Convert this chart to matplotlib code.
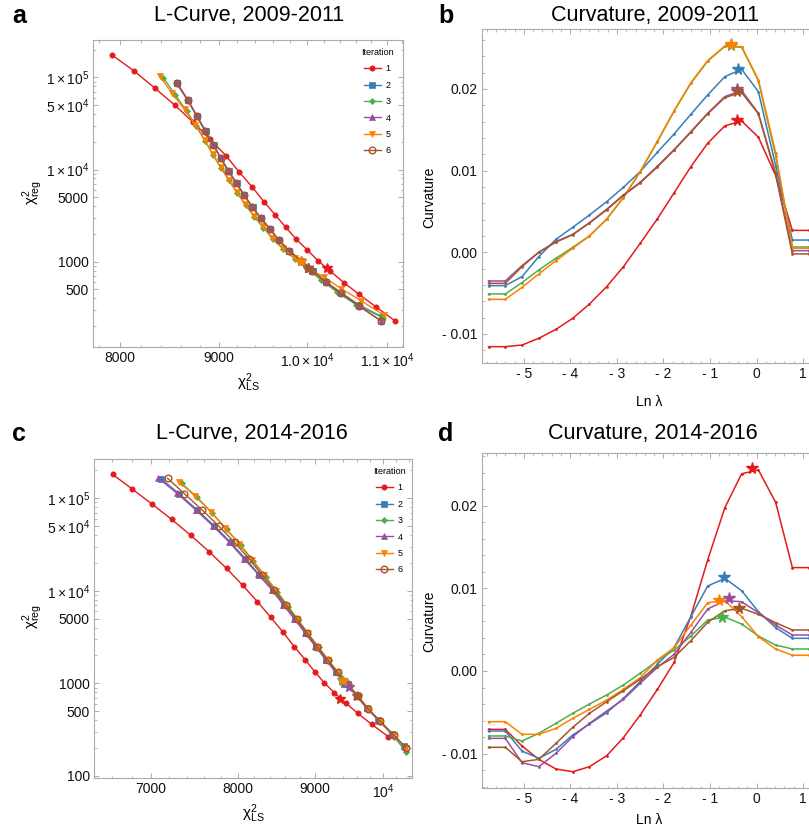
import matplotlib
matplotlib.use('Agg')
import matplotlib.pyplot as plt
from matplotlib.ticker import FixedLocator, FixedFormatter, NullFormatter
import numpy as np

plt.rcParams['font.family'] = ['Liberation Sans', 'DejaVu Sans']
plt.rcParams['mathtext.fontset'] = 'custom'
plt.rcParams['mathtext.rm'] = 'Liberation Sans'
plt.rcParams['mathtext.it'] = 'Liberation Sans:italic'
plt.rcParams['mathtext.bf'] = 'Liberation Sans:bold'

# ---------------- data ----------------
iterations = ['1', '2', '3', '4', '5', '6']
colors = ['#e41a1c', '#377eb8', '#4daf4a', '#984ea3', '#ff7f00', '#a65628']

# Panel a: L-curve 2009-2011 (chi2_LS, chi2_reg)
a_x1 = [7922, 8135, 8341, 8541, 8730, 8907, 9077, 9224, 9369, 9499, 9625, 9750, 9870, 10000, 10136, 10278, 10452, 10640, 10860, 11106]
a_y1 = [174600, 117000, 76000, 49700, 32500, 21250, 14130, 9340, 6415, 4475, 3236, 2360, 1762, 1349, 1018, 793, 591, 443, 323, 229]
a_x2 = [8565, 8676, 8770, 8860, 8945, 9025, 9108, 9193, 9280, 9372, 9466, 9569, 9670, 9790, 9930, 10066, 10228, 10415, 10635, 10932]
a_y2 = [86000, 56600, 37900, 26100, 18400, 13200, 9600, 7120, 5240, 3890, 2950, 2260, 1715, 1315, 1025, 800, 607, 462, 342, 253]
a_x3 = [8424, 8545, 8661, 8760, 8855, 8939, 9025, 9112, 9199, 9293, 9387, 9489, 9597, 9718, 9858, 10000, 10168, 10364, 10602, 10943]
a_y3 = [99000, 64270, 43100, 29630, 20380, 14360, 10380, 7600, 5561, 4121, 3092, 2349, 1785, 1373, 1070, 840, 633, 469, 343, 248]
a_x4 = [8559, 8671, 8766, 8855, 8941, 9021, 9103, 9189, 9276, 9369, 9463, 9566, 9667, 9788, 9929, 10064, 10226, 10413, 10640, 10920]
a_y4 = [86100, 56750, 38020, 26160, 18440, 13230, 9632, 7140, 5251, 3900, 2956, 2263, 1719, 1316, 1025, 798, 602, 454, 331, 229]
a_x5 = [8385, 8511, 8640, 8749, 8849, 8934, 9020, 9107, 9194, 9287, 9382, 9483, 9591, 9712, 9852, 10000, 10205, 10414, 10665, 10966]
a_y5 = [103300, 67550, 44760, 30770, 20890, 14730, 10640, 7790, 5700, 4225, 3170, 2409, 1830, 1408, 1097, 855, 682, 512, 378, 262]
a_x6 = [8559, 8671, 8766, 8855, 8941, 9021, 9103, 9189, 9276, 9369, 9463, 9566, 9667, 9788, 9929, 10064, 10226, 10413, 10640, 10920]
a_y6 = [86100, 56750, 38020, 26160, 18440, 13230, 9632, 7140, 5251, 3900, 2956, 2263, 1719, 1316, 1025, 798, 602, 454, 331, 229]
a_star_x = [10238, 10016, 9929, 10016, 9929, 10016]
a_star_y = [848, 855, 1025, 855, 1025, 855]

# Panel c: L-curve 2014-2016
c_x1 = [6604, 6808, 7015, 7229, 7443, 7658, 7866, 8061, 8246, 8416, 8579, 8725, 8870, 9003, 9134, 9277, 9441, 9615, 9828, 10077]
c_y1 = [181000, 125000, 86490, 59100, 39800, 26400, 17390, 11470, 7612, 5164, 3538, 2485, 1807, 1335, 1015, 792, 613, 474, 359, 265]
c_x2 = [7110, 7315, 7520, 7720, 7915, 8095, 8270, 8440, 8592, 8735, 8878, 9020, 9162, 9302, 9448, 9600, 9752, 9925, 10140, 10330]
c_y2 = [163000, 111000, 74500, 50000, 33200, 22200, 14900, 10250, 7000, 4930, 3480, 2490, 1790, 1310, 975, 740, 545, 400, 285, 208]
c_x3 = [7341, 7519, 7694, 7866, 8036, 8194, 8350, 8501, 8645, 8779, 8915, 9055, 9195, 9335, 9478, 9625, 9775, 9955, 10165, 10355]
c_y3 = [144700, 102200, 68610, 46080, 31190, 20950, 14180, 9760, 6723, 4828, 3420, 2460, 1770, 1300, 965, 722, 525, 385, 265, 182]
c_x4 = [7082, 7292, 7500, 7699, 7897, 8077, 8256, 8428, 8580, 8725, 8870, 9013, 9155, 9296, 9443, 9595, 9750, 9934, 10153, 10346]
c_y4 = [165000, 112500, 75000, 50500, 33500, 22200, 15000, 10300, 7013, 4990, 3500, 2500, 1800, 1320, 980, 735, 535, 392, 276, 205]
c_x5 = [7311, 7492, 7679, 7845, 8020, 8173, 8329, 8480, 8624, 8765, 8905, 9045, 9186, 9328, 9472, 9620, 9770, 9950, 10162, 10352]
c_y5 = [150600, 105500, 71400, 47970, 31970, 21480, 14790, 10010, 6892, 4913, 3468, 2485, 1785, 1308, 971, 729, 532, 392, 276, 202]
c_x6 = [7185, 7373, 7577, 7770, 7963, 8140, 8303, 8458, 8615, 8757, 8900, 9041, 9183, 9325, 9470, 9617, 9768, 9949, 10161, 10351]
c_y6 = [163900, 111700, 74500, 50040, 33190, 22180, 14900, 10230, 7013, 4925, 3468, 2485, 1785, 1308, 971, 729, 532, 392, 276, 202]
c_star_x = [9358, 9418, 9386, 9488, 9405, 9612]
c_star_y = [677, 1000, 1086, 912, 1059, 729]

# Curvature vs Ln lambda
ln_lambda = [-5.76, -5.40, -5.04, -4.68, -4.31, -3.95, -3.59, -3.22, -2.86, -2.50,
             -2.13, -1.77, -1.41, -1.05, -0.68, -0.32, 0.04, 0.41, 0.77, 1.13]

b_k1 = [-0.01155, -0.01155, -0.01135, -0.01053, -0.00943, -0.00808, -0.00633, -0.0042, -0.00176, 0.0011,
        0.0041, 0.0073, 0.01049, 0.01335, 0.01548, 0.01607, 0.01408, 0.0094, 0.00268, 0.00268]
b_k2 = [-0.00408, -0.00408, -0.00298, -0.00053, 0.00159, 0.00306, 0.00457, 0.0062, 0.00796, 0.00988,
        0.01225, 0.01449, 0.0169, 0.01926, 0.0215, 0.0224, 0.01966, 0.0106, 0.0015, 0.0015]
b_k3 = [-0.0051, -0.0051, -0.00371, -0.00216, -0.00073, 0.00061, 0.002, 0.00405, 0.0067, 0.00985,
        0.01355, 0.0173, 0.0207, 0.0234, 0.0252, 0.0251, 0.021, 0.0118, 0.00065, 0.00065]
b_k4 = [-0.00351, -0.00351, -0.00163, 0.0, 0.00131, 0.0022, 0.00363, 0.00527, 0.00702, 0.00857,
        0.01055, 0.01258, 0.01478, 0.01702, 0.01906, 0.0198, 0.01702, 0.0097, 0.0002, 0.0002]
b_k5 = [-0.00576, -0.00576, -0.00429, -0.00265, -0.00102, 0.00049, 0.002, 0.00408, 0.00673, 0.00988,
        0.0136, 0.01734, 0.02077, 0.02346, 0.02525, 0.02517, 0.0211, 0.0122, 0.0005, 0.0005]
b_k6 = [-0.0038, -0.0038, -0.00176, 0.0, 0.00125, 0.00215, 0.00358, 0.0052, 0.00697, 0.0085,
        0.01045, 0.01252, 0.0147, 0.01695, 0.01895, 0.01954, 0.01695, 0.0095, -0.0002, -0.0002]
b_star_x = [-0.42, -0.40, -0.54, -0.43, -0.54, -0.43]
b_star_y = [0.0162, 0.0224, 0.0254, 0.01995, 0.0255, 0.0197]

d_k1 = [-0.00706, -0.00706, -0.00907, -0.01069, -0.01185, -0.01218, -0.01157, -0.01024, -0.00806, -0.00532,
        -0.00222, 0.00105, 0.00665, 0.01343, 0.01976, 0.02385, 0.02431, 0.0204, 0.0125, 0.0125]
d_k2 = [-0.00726, -0.00726, -0.00968, -0.01056, -0.00948, -0.00774, -0.00641, -0.00504, -0.00331, -0.00129,
        0.00081, 0.00286, 0.00657, 0.01028, 0.0112, 0.0097, 0.00717, 0.00524, 0.00395, 0.00395]
d_k3 = [-0.00786, -0.00786, -0.00847, -0.00754, -0.00633, -0.00512, -0.00399, -0.0029, -0.00169, -0.00028,
        0.00125, 0.00254, 0.00423, 0.00617, 0.0065, 0.00568, 0.00423, 0.00314, 0.00266, 0.00266]
d_k4 = [-0.00815, -0.00815, -0.01109, -0.01157, -0.00996, -0.00794, -0.00633, -0.00484, -0.00343, -0.00149,
        0.00044, 0.00202, 0.00468, 0.0075, 0.0085, 0.00838, 0.00705, 0.00556, 0.00435, 0.00435]
d_k5 = [-0.00613, -0.00613, -0.00766, -0.00766, -0.00694, -0.00573, -0.00464, -0.00351, -0.00222, -0.00081,
        0.00133, 0.00282, 0.00556, 0.00826, 0.0085, 0.00657, 0.00415, 0.00266, 0.0019, 0.0019]
d_k6 = [-0.00923, -0.00923, -0.01097, -0.01069, -0.00875, -0.00681, -0.00512, -0.00371, -0.00238, -0.00101,
        0.00052, 0.00165, 0.00367, 0.00589, 0.00729, 0.00758, 0.00686, 0.00584, 0.00496, 0.00496]
d_star_x = [-0.10, -0.70, -0.75, -0.60, -0.81, -0.38]
d_star_y = [0.02459, 0.0114, 0.0065, 0.00879, 0.00859, 0.00765]

# ticks
a_xticks = [8000, 9000, 10000, 11000]
a_xticklabels = ['8000', '9000', r'$1.0\times10^{4}$', r'$1.1\times10^{4}$']
a_yticks = [500, 1000, 5000, 10000, 50000, 100000]
a_yticklabels = ['500', '1000', '5000', r'$1\times10^{4}$', r'$5\times10^{4}$', r'$1\times10^{5}$']
c_xticks = [7000, 8000, 9000, 10000]
c_xticklabels = ['7000', '8000', '9000', r'$10^{4}$']
c_yticks = [100, 500, 1000, 5000, 10000, 50000, 100000]
c_yticklabels = ['100', '500', '1000', '5000', r'$1\times10^{4}$', r'$5\times10^{4}$', r'$1\times10^{5}$']
k_xticks = [-5, -4, -3, -2, -1, 0, 1]
k_xticklabels = ['- 5', '- 4', '- 3', '- 2', '- 1', '0', '1']
k_yticks = [-0.01, 0.0, 0.01, 0.02]
k_yticklabels = ['- 0.01', '0.00', '0.01', '0.02']

# ---------------- figure ----------------
W, H = 809, 831
fig = plt.figure(figsize=(W / 100, H / 100), dpi=100)


def box(l, t, r, b):
    return [l / W, 1 - b / H, (r - l) / W, (b - t) / H]


def fx(x):
    return x / W


def fy(y):
    return 1 - y / H


FRAME = '#ababab'


def style(ax):
    for s in ax.spines.values():
        s.set_color(FRAME)
        s.set_linewidth(0.8)
    ax.tick_params(which='both', direction='in', top=True, right=True,
                   color=FRAME, labelcolor='#111111', labelsize=10, pad=3)
    ax.tick_params(which='major', length=3.5, width=0.7)
    ax.tick_params(which='minor', length=1.8, width=0.6)


markers = ['o', 's', 'D', '^', 'v', 'o']
msizes = [3.8, 4.3, 3.1, 4.9, 4.9, 4.8]


def lcurve(ax, xs, ys, sx, sy):
    for i in range(6):
        mfc = 'none' if i == 5 else colors[i]
        ax.plot(xs[i], ys[i], color=colors[i], lw=1.0, marker=markers[i], ms=msizes[i],
                mfc=mfc, mec=colors[i], mew=1.0 if i == 5 else 0.5, label=iterations[i], zorder=2 + i)
    for i in range(6):
        ax.plot([sx[i]], [sy[i]], ls='none', marker='*', ms=7.5, color=colors[i], zorder=10)
    ax.set_xscale('log')
    ax.set_yscale('log')
    style(ax)


def log_minor(lo, hi):
    out = []
    for e in range(1, 7):
        for m in range(2, 10):
            v = m * 10 ** e
            if lo <= v <= hi and m != 5:
                out.append(v)
    return out


LEG = dict(frameon=False, fontsize=6.5, title='Iteration', title_fontsize=6.5,
           handlelength=1.9, handletextpad=0.55, labelspacing=0.82, borderpad=0, borderaxespad=0)

# Panel a
ax_a = fig.add_axes(box(93, 40, 403, 347))
lcurve(ax_a, [a_x1, a_x2, a_x3, a_x4, a_x5, a_x6], [a_y1, a_y2, a_y3, a_y4, a_y5, a_y6], a_star_x, a_star_y)
ax_a.set_xlim(7745, 11214)
ax_a.set_ylim(118.8, 253900)
ax_a.xaxis.set_major_locator(FixedLocator(a_xticks))
ax_a.xaxis.set_major_formatter(FixedFormatter(a_xticklabels))
ax_a.xaxis.set_minor_locator(FixedLocator([v for v in range(7800, 11300, 200) if v % 1000 != 0]))
ax_a.xaxis.set_minor_formatter(NullFormatter())
ax_a.yaxis.set_major_locator(FixedLocator(a_yticks))
ax_a.yaxis.set_major_formatter(FixedFormatter(a_yticklabels))
ax_a.yaxis.set_minor_locator(FixedLocator(log_minor(100, 300000)))
ax_a.yaxis.set_minor_formatter(NullFormatter())
ax_a.legend(loc='upper left', bbox_to_anchor=(fx(361), fy(48)), bbox_transform=fig.transFigure, **LEG)

# Panel c
ax_c = fig.add_axes(box(94, 459, 412, 778))
lcurve(ax_c, [c_x1, c_x2, c_x3, c_x4, c_x5, c_x6], [c_y1, c_y2, c_y3, c_y4, c_y5, c_y6], c_star_x, c_star_y)
ax_c.set_xlim(6419, 10450)
ax_c.set_ylim(94.8, 264900)
ax_c.xaxis.set_major_locator(FixedLocator(c_xticks))
ax_c.xaxis.set_major_formatter(FixedFormatter(c_xticklabels))
ax_c.xaxis.set_minor_locator(FixedLocator([v for v in range(6400, 10500, 200) if v % 1000 != 0]))
ax_c.xaxis.set_minor_formatter(NullFormatter())
ax_c.yaxis.set_major_locator(FixedLocator(c_yticks))
ax_c.yaxis.set_major_formatter(FixedFormatter(c_yticklabels))
ax_c.yaxis.set_minor_locator(FixedLocator(log_minor(90, 300000)))
ax_c.yaxis.set_minor_formatter(NullFormatter())
ax_c.legend(loc='upper left', bbox_to_anchor=(fx(373), fy(467)), bbox_transform=fig.transFigure, **LEG)


def curv(ax, ks, sx, sy, ylim):
    for i in range(6):
        ax.plot(ln_lambda, ks[i], color=colors[i], lw=1.1, marker='o', ms=2.0, mew=0, zorder=2 + i)
    for i in range(6):
        ax.plot([sx[i]], [sy[i]], ls='none', marker='*', ms=8.5, color=colors[i], zorder=10)
    ax.set_xlim(-5.9, 1.6)
    ax.set_ylim(*ylim)
    ax.xaxis.set_major_locator(FixedLocator(k_xticks))
    ax.xaxis.set_major_formatter(FixedFormatter(k_xticklabels))
    ax.xaxis.set_minor_locator(FixedLocator(np.round(np.arange(-5.8, 1.61, 0.2), 2)))
    ax.yaxis.set_major_locator(FixedLocator(k_yticks))
    ax.yaxis.set_major_formatter(FixedFormatter(k_yticklabels))
    ax.yaxis.set_minor_locator(FixedLocator(np.round(np.arange(-0.014, 0.028, 0.002), 4)))
    style(ax)


ax_b = fig.add_axes(box(482, 29, 831, 363))
curv(ax_b, [b_k1, b_k2, b_k3, b_k4, b_k5, b_k6], b_star_x, b_star_y, (-0.01355, 0.02733))

ax_d = fig.add_axes(box(482, 453, 831, 788))
curv(ax_d, [d_k1, d_k2, d_k3, d_k4, d_k5, d_k6], d_star_x, d_star_y, (-0.01415, 0.02636))

# Titles, panel letters, axis labels
TS = 15.5
fig.text(fx(249), fy(16), 'L-Curve, 2009-2011', ha='center', va='center', fontsize=TS)
fig.text(fx(655), fy(16), 'Curvature, 2009-2011', ha='center', va='center', fontsize=TS)
fig.text(fx(252), fy(434), 'L-Curve, 2014-2016', ha='center', va='center', fontsize=TS)
fig.text(fx(653), fy(434), 'Curvature, 2014-2016', ha='center', va='center', fontsize=TS)
for lx, ly, s in [(19, 16, 'a'), (446, 16, 'b'), (19, 434, 'c'), (446, 434, 'd')]:
    fig.text(fx(lx), fy(ly), s, ha='center', va='center', fontsize=18, fontweight='bold')

chi_reg = r'$\mathregular{χ^{2}_{reg}}$'
chi_ls = r'$\mathregular{χ^{2}_{LS}}$'
fig.text(fx(33), fy(193), chi_reg, rotation=90, ha='center', va='center', fontsize=11)
fig.text(fx(33), fy(617), chi_reg, rotation=90, ha='center', va='center', fontsize=11)
fig.text(fx(248), fy(383), chi_ls, ha='center', va='center', fontsize=11)
fig.text(fx(253), fy(814), chi_ls, ha='center', va='center', fontsize=11)
fig.text(fx(429), fy(197), 'Curvature', rotation=90, ha='center', va='center', fontsize=10)
fig.text(fx(429), fy(621), 'Curvature', rotation=90, ha='center', va='center', fontsize=10)
fig.text(fx(649), fy(402), 'Ln λ', ha='center', va='center', fontsize=10)
fig.text(fx(649), fy(820), 'Ln λ', ha='center', va='center', fontsize=10)

fig.savefig('out.png', dpi=100)
